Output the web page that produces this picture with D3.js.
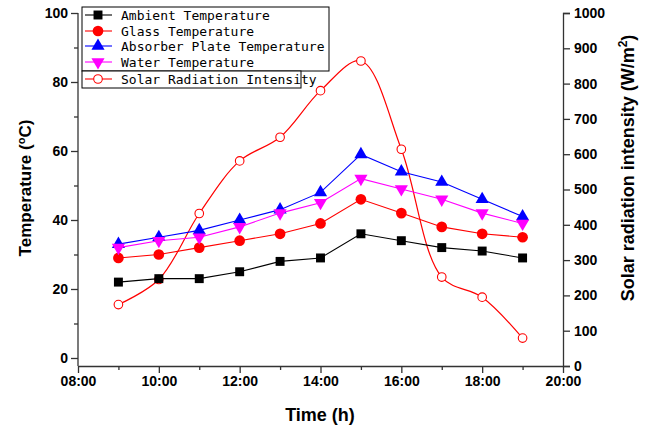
<!DOCTYPE html>
<html><head><meta charset="utf-8">
<script src="https://cdn.jsdelivr.net/npm/d3@7"></script>
<style>body{margin:0;background:#fff}svg{display:block}</style>
</head><body>
<svg id="c" width="649" height="431"></svg>
<script>
const hours = [9,10,11,12,13,14,15,16,17,18,19];
const ambient = [22,23,23,25,28,29,36,34,32,31,29];
const glass = [29,30,32,34,36,39,46,42,38,36,35];
const absorber = [33,35,37,40,43,48,59,54,51,46,41];
const water = [32,34,35,38,42,45,52,49,46,42,39];
const solar = [174,245,432,581,648,780,864,614,252,195,79];
const xTicks = [8,10,12,14,16,18,20];
const leftTicks = [0,20,40,60,80,100];
const rightTicks = [0,100,200,300,400,500,600,700,800,900,1000];

const svg = d3.select("#c");
const L=78,R=563,T=13,B=366;
const x = d3.scaleLinear().domain([8,20]).range([L,R]);
const y = d3.scaleLinear().domain([-2.32,100]).range([B,T]);
const y2 = d3.scaleLinear().domain([0,1000]).range([B,T]);
const axisColor="#333";
const tickFont="bold 14px 'Liberation Sans', Arial, sans-serif";

function styleAxis(g){
  g.selectAll("path,line").attr("stroke",axisColor).attr("stroke-width",1.3);
  g.selectAll("text").style("font",tickFont).attr("fill","#000");
}
const fmt = h => String(h).padStart(2,"0")+":00";
// bottom axis
const gx = svg.append("g").attr("transform",`translate(0,${B})`)
  .call(d3.axisBottom(x).tickValues(d3.range(8,21,1)).tickSizeOuter(0)
    .tickFormat(d => xTicks.includes(d)?fmt(d):""));
gx.selectAll(".tick line").attr("y2",d=>d%2===0?7:4);
gx.selectAll(".tick text").attr("y",10);
styleAxis(gx);
// left axis
const gy = svg.append("g").attr("transform",`translate(${L},0)`)
  .call(d3.axisLeft(y).tickValues(d3.range(0,101,10)).tickSizeOuter(0)
    .tickFormat(d => leftTicks.includes(d)?d:""));
gy.selectAll(".tick line").attr("x2",d=>d%20===0?-7:-4);
gy.selectAll(".tick text").attr("x",-10);
gy.select(".domain").attr("d",`M0,${B}V${T}`);
styleAxis(gy);
// right axis
const gy2 = svg.append("g").attr("transform",`translate(${R},0)`)
  .call(d3.axisRight(y2).tickValues(rightTicks).tickSizeOuter(0).tickSize(7)
    .tickFormat(d3.format("d")));
gy2.selectAll(".tick text").attr("x",11);
styleAxis(gy2);

// titles
svg.append("text").attr("x",320).attr("y",421).attr("text-anchor","middle")
  .style("font","bold 18px 'Liberation Sans', Arial, sans-serif").text("Time (h)");
const lt = svg.append("text").attr("transform","translate(31,188) rotate(-90)")
  .attr("text-anchor","middle").style("font","bold 17px 'Liberation Sans', Arial, sans-serif");
lt.append("tspan").text("Temperature (");
lt.append("tspan").attr("dy",-6).style("font-size","11px").text("o");
lt.append("tspan").attr("dy",6).text("C)");
const rt = svg.append("text").attr("transform","translate(634,168) rotate(-90)")
  .attr("text-anchor","middle").style("font","bold 18px 'Liberation Sans', Arial, sans-serif");
rt.append("tspan").text("Solar radiation intensity (W/m");
rt.append("tspan").attr("dy",-7).style("font-size","12px").text("2");
rt.append("tspan").attr("dy",7).text(")");

// solar curve
const solarPts = hours.map((h,i)=>[x(h),y2(solar[i])]);
svg.append("path").attr("d",d3.line().curve(d3.curveCatmullRom.alpha(0.5))(solarPts))
  .attr("fill","none").attr("stroke","#ff0000").attr("stroke-width",1.2);
svg.selectAll(".sol").data(solarPts).enter().append("circle")
  .attr("cx",d=>d[0]).attr("cy",d=>d[1]).attr("r",4.3)
  .attr("fill","#fff").attr("stroke","#ff0000").attr("stroke-width",1.1);

const series = [
  {name:"Ambient Temperature", vals:ambient, color:"#000000", sym:d3.symbolSquare, size:80, rot:0},
  {name:"Glass Temperature", vals:glass, color:"#ff0000", sym:d3.symbolCircle, size:90, rot:0},
  {name:"Absorber Plate Temperature", vals:absorber, color:"#0000ff", sym:d3.symbolTriangle, size:75, rot:0},
  {name:"Water Temperature", vals:water, color:"#ff00ff", sym:d3.symbolTriangle, size:75, rot:180},
];
const line = d3.line().x((d,i)=>x(hours[i])).y(d=>y(d));
series.forEach(s=>{
  svg.append("path").attr("d",line(s.vals)).attr("fill","none")
    .attr("stroke",s.color).attr("stroke-width",1.1);
  svg.append("g").selectAll("path").data(s.vals).enter().append("path")
    .attr("d",d3.symbol().type(s.sym).size(s.size))
    .attr("transform",(d,i)=>`translate(${x(hours[i])},${y(d)}) rotate(${s.rot})`)
    .attr("fill",s.color);
});

// legend
const legFont="13px 'DejaVu Sans Mono', monospace";
svg.append("rect").attr("x",82).attr("y",7).attr("width",247).attr("height",64)
  .attr("fill","#fff").attr("stroke","#000").attr("stroke-width",1);
svg.append("rect").attr("x",82).attr("y",71).attr("width",219).attr("height",17)
  .attr("fill","#fff").attr("stroke","#000").attr("stroke-width",1);
const rowsY=[15,31,46,62];
series.forEach((s,i)=>{
  const yy=rowsY[i];
  svg.append("line").attr("x1",85).attr("x2",112).attr("y1",yy).attr("y2",yy)
    .attr("stroke",s.color).attr("stroke-width",1.1);
  svg.append("path").attr("d",d3.symbol().type(s.sym).size(s.size))
    .attr("transform",`translate(98,${yy}) rotate(${s.rot})`).attr("fill",s.color);
  svg.append("text").attr("x",121).attr("y",yy+4.5).style("font",legFont).text(s.name);
});
svg.append("line").attr("x1",85).attr("x2",112).attr("y1",79).attr("y2",79)
  .attr("stroke","#ff0000").attr("stroke-width",1.1);
svg.append("circle").attr("cx",98).attr("cy",79).attr("r",4.3)
  .attr("fill","#fff").attr("stroke","#ff0000").attr("stroke-width",1.1);
svg.append("text").attr("x",121).attr("y",83.5).style("font",legFont).text("Solar Radiation Intensity");
</script>
</body></html>
